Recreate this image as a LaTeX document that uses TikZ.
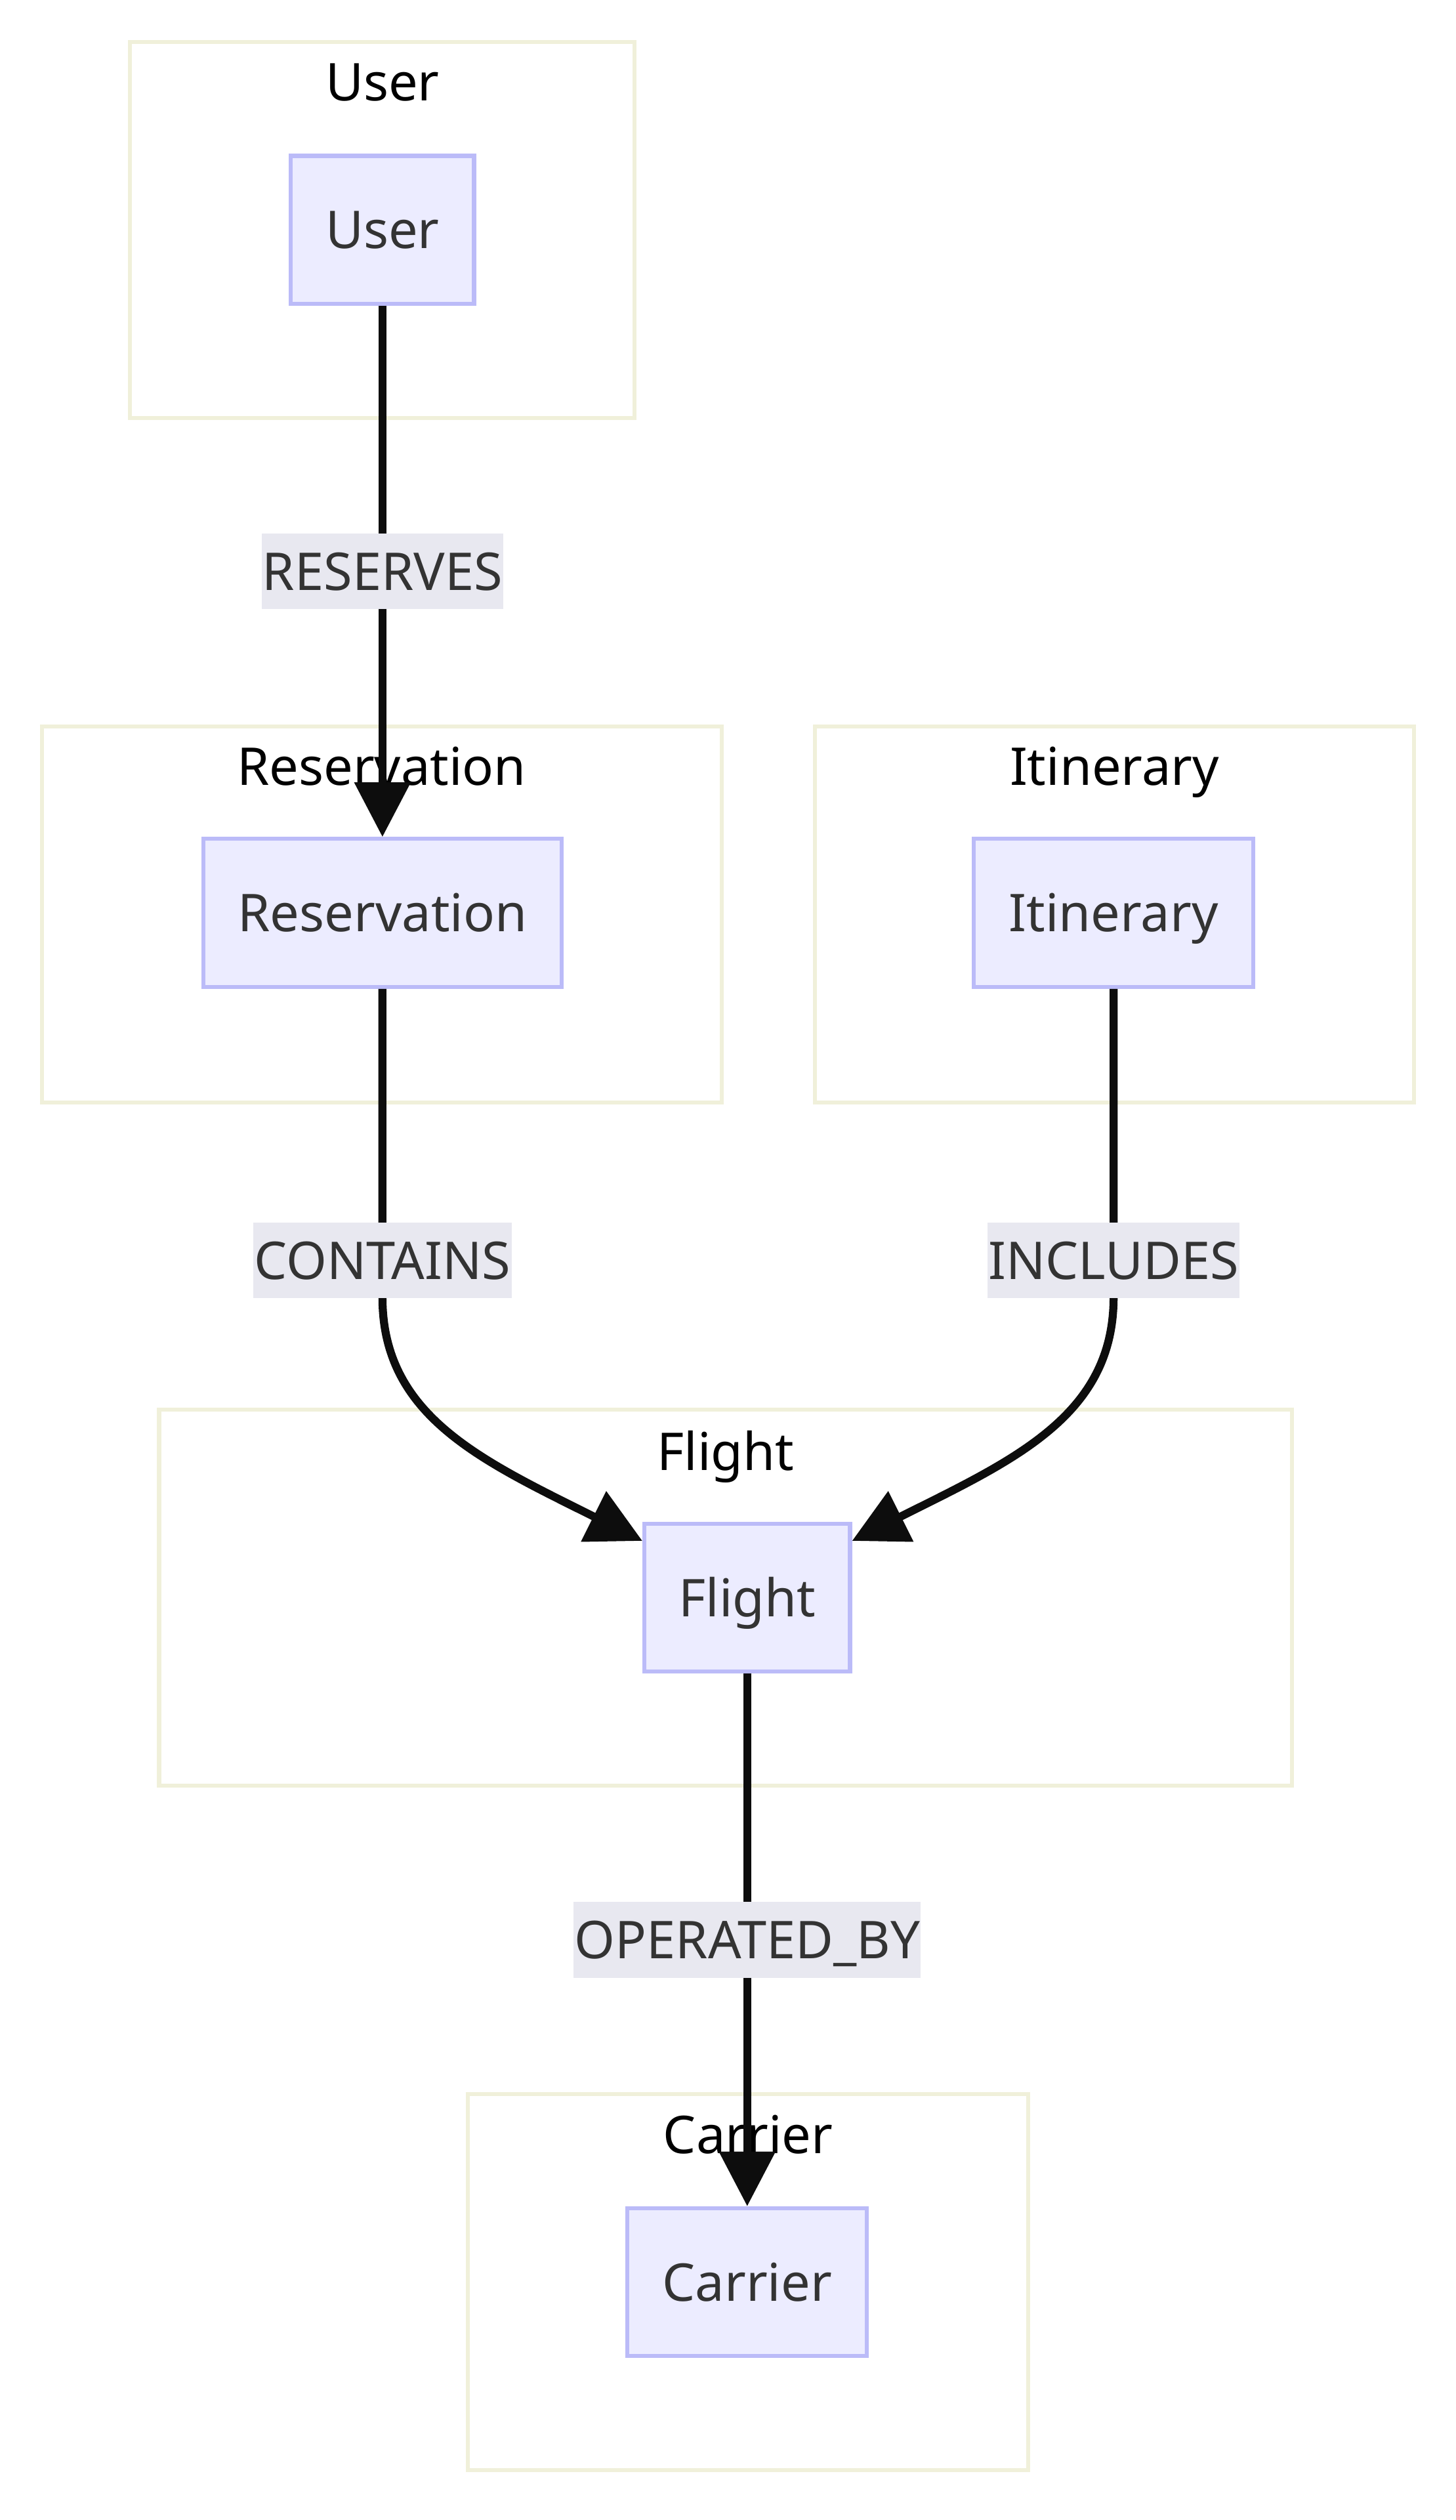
\documentclass[tikz,border=0pt]{standalone}
\usepackage{fontspec}
\setmainfont{Noto Sans}
\usetikzlibrary{arrows.meta}
\definecolor{nodefill}{HTML}{ECECFF}
\definecolor{nodeline}{HTML}{BBBBF8}
\definecolor{clusterline}{HTML}{F0F0DA}
\definecolor{labelfill}{HTML}{E8E8F0}
\definecolor{textgrey}{HTML}{333333}
\definecolor{edgeblack}{HTML}{0D0D0D}
\tikzset{
	entity/.style={draw=nodeline, fill=nodefill, line width=2.5pt, text=textgrey, minimum height=92pt, inner sep=0pt, text height=23.5pt, text depth=0pt},
	cluster/.style={draw=clusterline, line width=2.5pt, minimum height=234pt, inner sep=0pt},
	title/.style={text=black, inner sep=0pt, text height=23.5pt, text depth=0pt},
	lbl/.style={fill=labelfill, text=textgrey, inner xsep=0.5pt, inner ysep=0pt, minimum height=47pt, text height=23.5pt, text depth=0pt},
	rel/.style={draw=edgeblack, line width=5pt, -{Triangle[length=34pt, width=34pt]}}
}
\begin{document}
\begin{tikzpicture}[x=1pt, y=-1pt, font=\fontsize{32.4}{38}\selectfont]
	\useasboundingbox (0,0) rectangle (906,1568);
	\node[cluster, minimum width=314pt] (userC) at (238,143) {};
	\node[cluster, minimum width=423pt] (resC) at (237.5,569) {};
	\node[cluster, minimum width=373pt] (itinC) at (693.5,569) {};
	\node[cluster, minimum width=705pt] (flightC) at (451.5,994) {};
	\node[cluster, minimum width=349pt] (carrierC) at (465.5,1420) {};
	\node[title] (userT) at (238,51) {User};
	\node[title] (resT) at (237.5,477) {Reservation};
	\node[title] (itinT) at (693.5,477) {Itinerary};
	\node[title] (flightT) at (451.5,903) {Flight};
	\node[title] (carrierT) at (465.5,1328) {Carrier};
	\node[entity, minimum width=114pt] (user) at (238,143) {User};
	\node[entity, minimum width=223pt] (res) at (238,568) {Reservation};
	\node[entity, minimum width=174pt] (itin) at (693,568) {Itinerary};
	\node[entity, minimum width=128pt] (flight) at (465,994) {Flight};
	\node[entity, minimum width=149pt] (carrier) at (465,1420) {Carrier};
	\draw[rel] (user) -- node[lbl] {RESERVES} (res);
	\draw[rel] (res.south) -- node[lbl, pos=0.88] {CONTAINS} ++(0,192)
		.. controls +(0,74) and +(-100,-50) .. ([yshift=-12pt]flight.north west);
	\draw[rel] (itin.south) -- node[lbl, pos=0.88] {INCLUDES} ++(0,192)
		.. controls +(0,74) and +(100,-50) .. ([yshift=-12pt]flight.north east);
	\draw[rel] (flight) -- node[lbl] {OPERATED\_BY} (carrier);
\end{tikzpicture}
\end{document}
